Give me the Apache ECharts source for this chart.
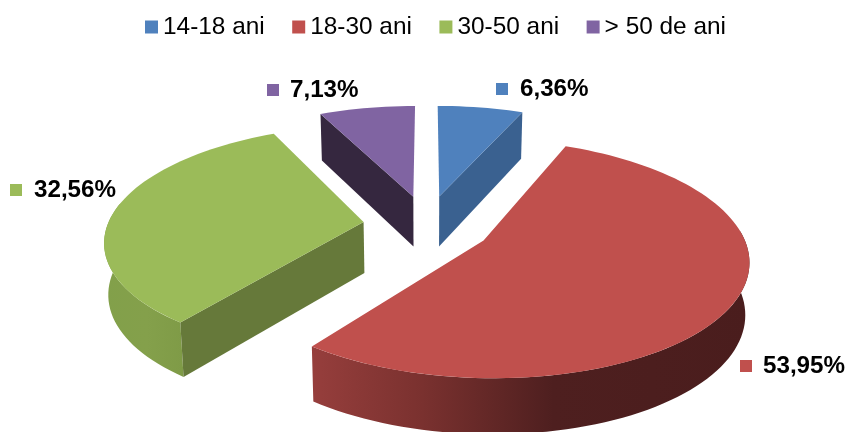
<!DOCTYPE html>
<html>
<head>
<meta charset="utf-8">
<style>html,body{margin:0;padding:0;background:#fff}#c{width:846px;height:432px}</style>
<script src="https://cdn.jsdelivr.net/npm/echarts@6/dist/echarts.min.js"></script>
</head>
<body>
<div id="c"></div>
<script>
const categories = ['14-18 ani', '18-30 ani', '30-50 ani', '> 50 de ani'];
const values = [6.36, 53.95, 32.56, 7.13];
const topColors = ['#4F81BD', '#C0504D', '#9BBB59', '#8064A2'];
const sideColors = ['#3A6190', '#4B1E1E', '#66793A', '#35273F'];

// perspective model of the tilted, exploded disc
const view = { cx: 427, cy: 225, A: 256, B: 112, k: 0.15, explodeU: 0.25, explodeV: 0.27, depth: 51, depthK: 0.08, shrink: 0.987 };
// label anchors: marker x, text x, centre y
const labelAt = [[496, 520, 89], [740, 763, 366], [10, 34, 190], [267, 290, 90]];
const drawOrder = [1, 3, 2, 0];
const rimStops = {
  1: [313, 750, [[0, '#963E3C'], [0.25, '#7A312F'], [0.55, '#4E1F1F'], [1, '#4A1D1D']]],
  2: [104, 190, [[0, '#82A04A'], [0.5, '#84A04B'], [1, '#7E9A46']]]
};

const total = values.reduce((a, b) => a + b, 0);
const D = Math.PI / 180;
function pt(u, v, low) {
  const d = 1 - view.k * v;
  let x = view.A * u / d, y = view.cy + view.B * v / d;
  if (low) { x *= view.shrink; y += view.depth / (1 - view.depthK * v); }
  return [view.cx + x, y];
}
function slice(i) {
  let s = 0;
  for (let j = 0; j < i; j++) s += values[j];
  const t0 = s / total * 360, t1 = (s + values[i]) / total * 360, m = (t0 + t1) / 2 * D;
  const ou = view.explodeU * Math.sin(m), ov = -view.explodeV * Math.cos(m);
  const rim = (t, low) => pt(ou + Math.sin(t * D), ov - Math.cos(t * D), low);
  return { t0, t1, ou, ov, rim };
}
function arc(sl, a, b, low) {
  const n = Math.max(2, Math.ceil(Math.abs(b - a) / 2)), r = [];
  for (let j = 0; j <= n; j++) r.push(sl.rim(a + (b - a) * j / n, low));
  return r;
}
const poly = (points, fill) => ({ type: 'polygon', shape: { points }, style: { fill } });

function renderSlice(i) {
  const sl = slice(i), kids = [];
  const apexT = pt(sl.ou, sl.ov, false), apexB = pt(sl.ou, sl.ov, true);
  // outer wall, only where it faces the viewer
  const a = Math.max(sl.t0, 85), b = Math.min(sl.t1, 280);
  if (b > a) {
    const st = rimStops[i];
    const fill = st ? new echarts.graphic.LinearGradient(st[0], 0, st[1], 0,
      st[2].map(p => ({ offset: p[0], color: p[1] })), true) : sideColors[i];
    kids.push(poly(arc(sl, a, b, false).concat(arc(sl, b, a, true)), fill));
  }
  // cut walls
  if (Math.sin(sl.t0 * D) < -1e-6) kids.push(poly([apexT, sl.rim(sl.t0, false), sl.rim(sl.t0, true), apexB], sideColors[i]));
  if (Math.sin(sl.t1 * D) > 1e-6) kids.push(poly([apexT, sl.rim(sl.t1, false), sl.rim(sl.t1, true), apexB], sideColors[i]));
  // top face
  kids.push(poly([apexT].concat(arc(sl, sl.t0, sl.t1, false)), topColors[i]));
  // data label
  const la = labelAt[i];
  kids.push({ type: 'rect', shape: { x: la[0], y: la[2] - 6, width: 12, height: 12 }, style: { fill: topColors[i] } });
  kids.push({ type: 'text', style: {
    x: la[1], y: la[2], text: values[i].toFixed(2).replace('.', ',') + '%',
    font: 'bold 24.2px "Liberation Sans", Arial, sans-serif', fill: '#000',
    textAlign: 'left', textVerticalAlign: 'middle' } });
  return { type: 'group', children: kids };
}

const chart = echarts.init(document.getElementById('c'), null, { renderer: 'canvas' });
chart.setOption({
  animation: false,
  color: topColors,
  legend: {
    data: categories, top: 15, left: 145, icon: 'rect', itemWidth: 13, itemHeight: 13, itemGap: 27.5,
    padding: 0, selectedMode: false,
    textStyle: { fontFamily: '"Liberation Sans", Arial, sans-serif', fontSize: 24.4, color: '#000' }
  },
  series: categories.map((name, i) => ({
    type: 'custom', name, coordinateSystem: 'none', silent: true,
    z: 2 + drawOrder.indexOf(i),
    itemStyle: { color: topColors[i] },
    data: [values[i]],
    renderItem: () => renderSlice(i)
  }))
});
</script>
</body>
</html>
